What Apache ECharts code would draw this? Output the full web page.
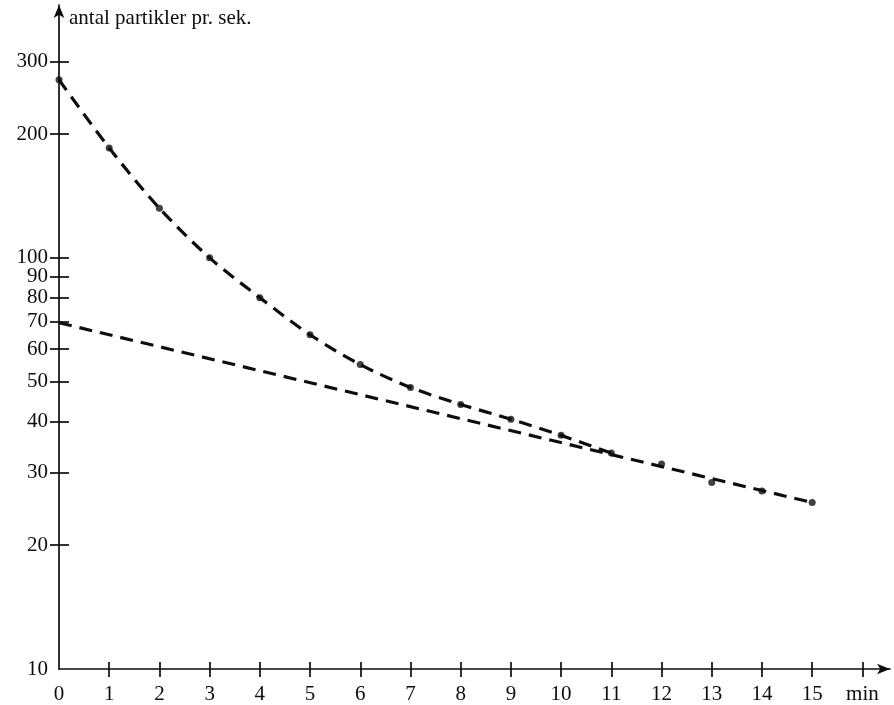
<!DOCTYPE html>
<html>
<head>
<meta charset="utf-8">
<script src="https://cdn.jsdelivr.net/npm/echarts@6/dist/echarts.min.js"></script>
<style>
html,body{margin:0;padding:0;background:#fff;}
#chart{width:894px;height:705px;}
</style>
</head>
<body>
<div id="chart"></div>
<script>
// Data
var curveMinutes = [0, 1, 2, 3, 4, 5, 6, 7, 8, 9, 10, 11];
var curveCounts  = [271, 185, 132, 100, 80, 65, 55, 48.4, 44, 40.5, 37, 33.5];
var pointMinutes = [0, 1, 2, 3, 4, 5, 6, 7, 8, 9, 10, 11, 12, 13, 14, 15];
var pointCounts  = [271, 185, 132, 100, 80, 65, 55, 48.4, 44, 40.5, 37, 33.5, 31.5, 28.4, 27.1, 25.4];
var fitMinutes = [0, 15];
var fitCounts  = [69.5, 25.4];
var xTickValues = [1, 2, 3, 4, 5, 6, 7, 8, 9, 10, 11, 12, 13, 14, 15, 16];
var xLabelValues = [0, 1, 2, 3, 4, 5, 6, 7, 8, 9, 10, 11, 12, 13, 14, 15, 16];
var yTickValues = [20, 30, 40, 50, 60, 70, 80, 90, 100, 200, 300];
var yLabelValues = [10, 20, 30, 40, 50, 60, 70, 80, 90, 100, 200, 300];
var yTitle = 'antal partikler pr. sek.';
var xUnit = 'min';

function pairs(xs, ys) { return xs.map(function (x, i) { return [x, ys[i]]; }); }

var font = 'Liberation Serif';
var ink = '#0d0d0d';
var X_MAX = 16.55, Y_MIN = 10, Y_MAX = 412;

var chart = echarts.init(document.getElementById('chart'));
chart.setOption({
  backgroundColor: '#ffffff',
  animation: false,
  title: {
    text: yTitle, left: 64, top: 3,
    textStyle: { fontFamily: font, fontSize: 21, fontWeight: 'normal', color: ink }
  },
  grid: { left: 59, right: 4, top: 5, bottom: 33 },
  xAxis: [{
    type: 'value', min: 0, max: X_MAX, position: 'bottom',
    axisLine: { show: true, symbol: ['none', 'arrow'], symbolSize: [8, 13], lineStyle: { color: ink, width: 1.7 } },
    axisTick: { show: true, customValues: xTickValues, inside: false, length: 8, lineStyle: { color: ink, width: 1.7 } },
    axisLabel: {
      customValues: xLabelValues, margin: 15, color: ink, fontFamily: font, fontSize: 21,
      formatter: function (v) { return v === 16 ? xUnit : String(v); }
    },
    splitLine: { show: false }
  }, {
    type: 'value', min: 0, max: X_MAX, position: 'bottom',
    axisLine: { show: false },
    axisTick: { show: true, customValues: xTickValues, inside: true, length: 7, lineStyle: { color: ink, width: 1.7 } },
    axisLabel: { show: false },
    splitLine: { show: false }
  }],
  yAxis: [{
    type: 'log', logBase: 10, min: Y_MIN, max: Y_MAX, position: 'left',
    axisLine: { show: true, symbol: ['none', 'arrow'], symbolSize: [8, 13], lineStyle: { color: ink, width: 1.7 } },
    axisTick: { show: true, customValues: yTickValues, inside: false, length: 9, lineStyle: { color: ink, width: 1.7 } },
    axisLabel: { customValues: yLabelValues, margin: 11, color: ink, fontFamily: font, fontSize: 21 },
    splitLine: { show: false }
  }, {
    type: 'log', logBase: 10, min: Y_MIN, max: Y_MAX, position: 'left',
    axisLine: { show: false },
    axisTick: { show: true, customValues: yTickValues, inside: true, length: 10, lineStyle: { color: ink, width: 1.7 } },
    axisLabel: { show: false },
    splitLine: { show: false }
  }],
  series: [{
    type: 'line', name: 'curve', xAxisIndex: 0, yAxisIndex: 0,
    data: pairs(curveMinutes, curveCounts), smooth: 0.3, symbol: 'none',
    lineStyle: { color: ink, width: 3.2, type: [13, 8] }
  }, {
    type: 'line', name: 'fit', xAxisIndex: 0, yAxisIndex: 0,
    data: pairs(fitMinutes, fitCounts), symbol: 'none',
    lineStyle: { color: ink, width: 3.2, type: [13, 8] }
  }, {
    type: 'scatter', name: 'points', xAxisIndex: 0, yAxisIndex: 0,
    data: pairs(pointMinutes, pointCounts), symbol: 'circle', symbolSize: 7,
    itemStyle: { color: '#111' }
  }]
});
</script>
</body>
</html>
